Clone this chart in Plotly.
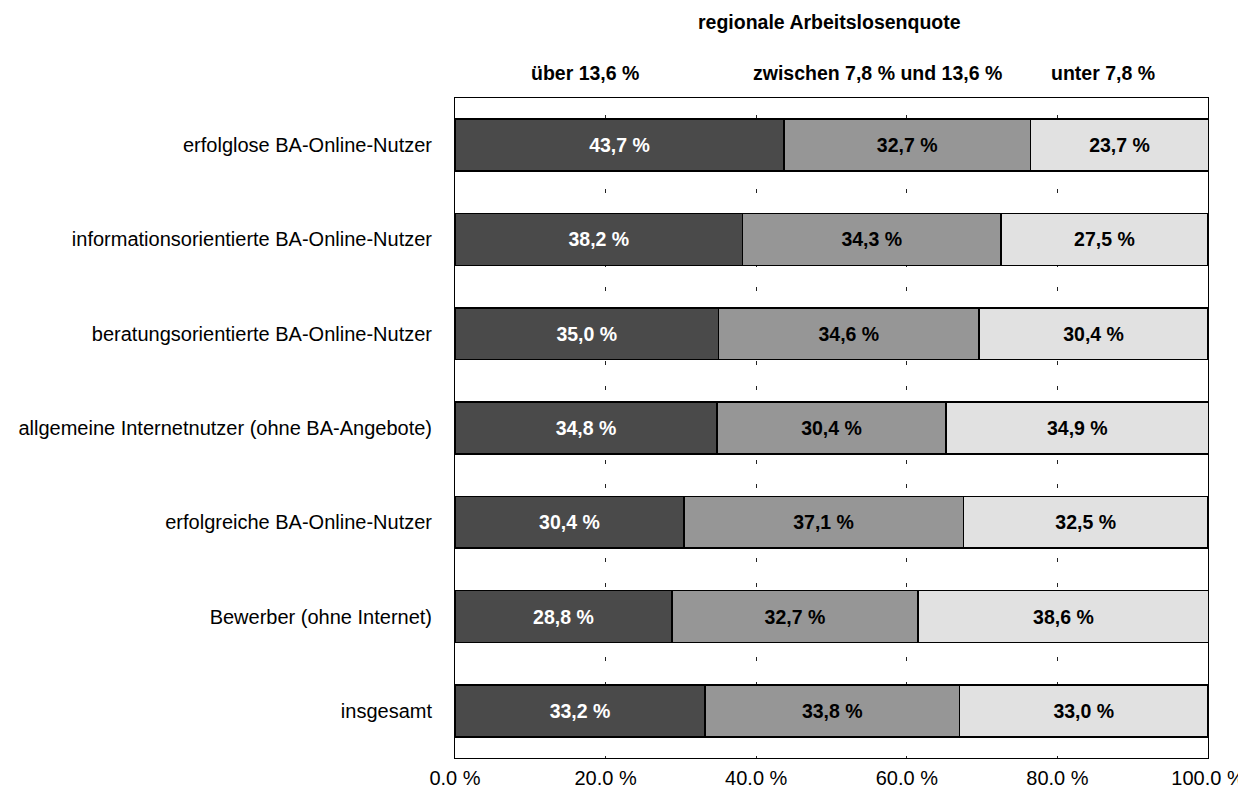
import plotly.graph_objects as go

categories = [
    "erfolglose BA-Online-Nutzer",
    "informationsorientierte BA-Online-Nutzer",
    "beratungsorientierte BA-Online-Nutzer",
    "allgemeine Internetnutzer (ohne BA-Angebote)",
    "erfolgreiche BA-Online-Nutzer",
    "Bewerber (ohne Internet)",
    "insgesamt",
]
series_names = ["über 13,6 %", "zwischen 7,8 % und 13,6 %", "unter 7,8 %"]
ueber = [43.7, 38.2, 35.0, 34.8, 30.4, 28.8, 33.2]
zwischen = [32.7, 34.3, 34.6, 30.4, 37.1, 32.7, 33.8]
unter = [23.7, 27.5, 30.4, 34.9, 32.5, 38.6, 33.0]
tick_vals = [0, 20, 40, 60, 80, 100]
tick_text = ["0.0 %", "20.0 %", "40.0 %", "60.0 %", "80.0 %", "100.0 %"]
header_title = "regionale Arbeitslosenquote"

colors = ["#4a4a4a", "#969696", "#e1e1e1"]
text_colors = ["white", "black", "black"]
FONT = "Liberation Sans, Arial, sans-serif"

def fmt(v):
    return f"{v:.1f}".replace(".", ",") + " %"

fig = go.Figure()
for name, vals, col, tcol in zip(series_names, [ueber, zwischen, unter], colors, text_colors):
    fig.add_trace(go.Bar(
        y=categories, x=vals, name=name, orientation="h",
        marker=dict(color=col, line=dict(color="black", width=1.5)),
        text=[fmt(v) for v in vals], textposition="inside", insidetextanchor="middle",
        textangle=0,
        textfont=dict(family=FONT, size=19.5, color=tcol, weight="bold"),
        width=0.55, cliponaxis=True,
    ))

# page body has an 8px default margin: compensate in figure size and margins
fig.update_layout(
    barmode="stack",
    width=1238, height=783,
    margin=dict(l=447, r=38, t=90, b=33, autoexpand=False),
    paper_bgcolor="white", plot_bgcolor="white",
    showlegend=False,
    font=dict(family=FONT, size=20, color="black"),
    uniformtext=dict(mode=False),
)
fig.update_xaxes(
    range=[0, 100], tickvals=tick_vals, ticktext=tick_text, automargin=False,
    showgrid=True, gridcolor="#222222", gridwidth=1, griddash="0px,16.7px,4px,3.95px",
    showline=True, linecolor="black", linewidth=1, mirror=True,
    ticks="", zeroline=False, tickfont=dict(size=20), ticklabelstandoff=2,
)
fig.update_yaxes(
    categoryorder="array", categoryarray=categories, autorange="reversed", automargin=False,
    showline=True, linecolor="black", linewidth=1, mirror=True,
    ticks="", showgrid=False, tickfont=dict(size=20), ticklabelstandoff=18,
)

fig.add_annotation(text=header_title, xref="paper", yref="paper", x=(829 - 455) / 753,
                   y=1 + (98 - 22) / 660, showarrow=False, xanchor="center", yanchor="middle",
                   font=dict(size=19.5, weight="bold"))
header_x = [585, 877, 1103]
for name, px in zip(series_names, header_x):
    fig.add_annotation(text=name, xref="paper", yref="paper", x=(px - 455) / 753,
                       y=1 + (98 - 73) / 660, showarrow=False, xanchor="center", yanchor="middle",
                       font=dict(size=19.5, weight="bold"))

fig.write_html("out.html")
